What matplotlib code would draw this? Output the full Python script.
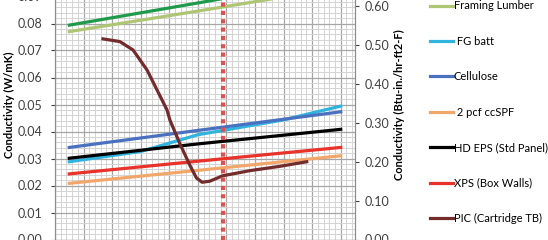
import numpy as np
import matplotlib
matplotlib.use('agg')
from matplotlib import pyplot as plt
from matplotlib.ticker import MultipleLocator, FormatStrFormatter

plt.rcParams['font.family'] = ['Lato', 'DejaVu Sans']

# mean temperature axis (tick labels are outside the visible crop)
t_lin = [5, 50, 100]
t_fg = [5, 30, 50, 80, 100]

# conductivity values, W/mK
dark_green = [0.0794, 0.0876, 0.0970]
framing = [0.0770, 0.0846, 0.0933]
fg_batt = [0.0288, 0.0326, 0.0388, 0.0443, 0.0494]
cellulose = [0.0341, 0.0404, 0.0473]
ccspf = [0.0208, 0.0256, 0.0310]
hd_eps = [0.0301, 0.0354, 0.0408]
xps = [0.0243, 0.0290, 0.0341]

t_pic = [16.8, 22.7, 27.3, 32.2, 35.7, 39.2, 40.2, 43.7, 47.2, 49.5, 51.5, 54.2, 58.7, 68.2, 78.7, 88.1]
pic = [0.0743, 0.0733, 0.0702, 0.0628, 0.0554, 0.0480, 0.0443, 0.0355, 0.0275, 0.0228, 0.0212,
       0.0216, 0.0236, 0.0255, 0.0271, 0.0288]

marker_t = 58.7
w_to_btu = 6.933

fig = plt.figure(figsize=(5.48, 2.4), dpi=100)
ax = fig.add_axes([55/548, 0.5/240, 300/548, 270/240])
ax2 = ax.twinx()

ax.plot(t_lin, dark_green, color='#1f9a4a', lw=2.3)
h1, = ax.plot(t_lin, framing, color='#aec674', lw=2.3, label='Framing Lumber')
h2, = ax.plot(t_fg, fg_batt, color='#2fb4e0', lw=2.3, label=' FG batt')
h3, = ax.plot(t_lin, cellulose, color='#4a70c0', lw=2.3, label='Cellulose')
h4, = ax.plot(t_lin, ccspf, color='#f2a76a', lw=2.3, label=' 2 pcf ccSPF')
h5, = ax.plot(t_lin, hd_eps, color='black', lw=2.3, label='HD EPS (Std Panel)')
h6, = ax.plot(t_lin, xps, color='#e8322a', lw=2.3, label='XPS (Box Walls)')
h7, = ax.plot(t_pic, pic, color='#732b2b', lw=2.3, label='PIC (Cartridge TB)')
ax.axvline(marker_t, color='#e05050', lw=3, ls=(0, (1, 1)))

ax.set_xlim(0, 105)
ax.set_ylim(0, 0.10)
ax2.set_ylim(0, 0.10 * w_to_btu)

ax.xaxis.set_major_locator(MultipleLocator(10))
ax.xaxis.set_minor_locator(MultipleLocator(2))
ax.yaxis.set_major_locator(MultipleLocator(0.01))
ax.yaxis.set_minor_locator(MultipleLocator(0.002))
ax.yaxis.set_major_formatter(FormatStrFormatter('%.2f'))
ax2.yaxis.set_major_locator(MultipleLocator(0.1))
ax2.yaxis.set_major_formatter(FormatStrFormatter('%.2f'))

ax.grid(which='major', color='#a6a6a6', lw=0.9)
ax.grid(which='minor', color='#d4d4d4', lw=0.7)
ax.set_axisbelow(True)

for a in (ax, ax2):
    for s in a.spines.values():
        s.set_color('#8c8c8c')
    a.tick_params(axis='y', labelsize=9, colors='#404040', length=3, width=0.8)
ax.tick_params(axis='y', pad=6)
ax2.tick_params(axis='y', pad=4)
ax.tick_params(axis='x', which='both', length=0, labelbottom=False)
ax.tick_params(axis='y', which='minor', length=0)

ax.set_ylabel('Conductivity (W/mK)', fontsize=8, fontweight='bold', labelpad=2)
ax2.set_ylabel('Conductivity (Btu-in./hr-ft2-F)', fontsize=8, fontweight='bold', labelpad=3)

fig.legend(handles=[h1, h2, h3, h4, h5, h6, h7], loc='upper left',
           bbox_to_anchor=(426/548, 1 + 4/240), frameon=False, fontsize=8,
           handlelength=2.0, handletextpad=0.1, labelspacing=2.2, borderaxespad=0)

fig.savefig('out.png', dpi=100)
